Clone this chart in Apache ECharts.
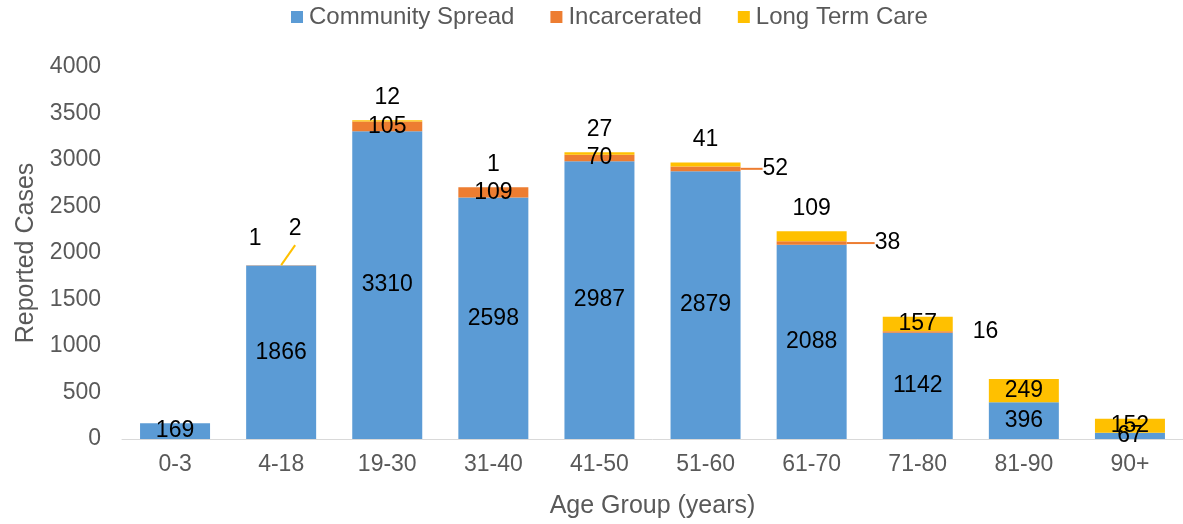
<!DOCTYPE html>
<html>
<head>
<meta charset="utf-8">
<script src="https://cdn.jsdelivr.net/npm/echarts@6/dist/echarts.min.js"></script>
<style>
  html, body { margin: 0; padding: 0; background: #fff; }
  #chart { width: 1183px; height: 524px; }
</style>
</head>
<body>
<div id="chart"></div>
<script>
const categories = ["0-3", "4-18", "19-30", "31-40", "41-50", "51-60", "61-70", "71-80", "81-90", "90+"];
const community = [169, 1866, 3310, 2598, 2987, 2879, 2088, 1142, 396, 67];
const incarcerated = [0, 1, 105, 109, 70, 52, 38, 16, 0, 0];
const longTermCare = [0, 2, 12, 1, 27, 41, 109, 157, 249, 152];
const yTicks = [0, 500, 1000, 1500, 2000, 2500, 3000, 3500, 4000];

const textColor = "#595959";
const labelFont = { fontFamily: "Liberation Sans, Arial", fontSize: 23, color: "#000" };

// incarcerated labels moved out of the bar: index -> gap to the right of the bar (px)
const incRight = { 5: 22, 6: 28, 7: 20 };
const incLine = [5, 6];
const ltcTop = [2, 3, 4, 5, 6];

function hideZero(p) {
  return p.value === 0 ? "" : String(p.value);
}

const chart = echarts.init(document.getElementById("chart"));

chart.setOption({
  animation: false,
  textStyle: { fontFamily: "Liberation Sans, Arial" },
  legend: {
    top: 0,
    left: 286,
    itemWidth: 12,
    itemHeight: 12,
    itemGap: 36,
    icon: "rect",
    textStyle: { fontSize: 24, color: textColor, padding: [0, 0, 0, 1] },
  },
  grid: { left: 122, top: 67, width: 1080, height: 373 },
  xAxis: {
    type: "category",
    data: categories,
    axisLine: { lineStyle: { color: "#d9d9d9", width: 1 } },
    axisTick: { show: false },
    axisLabel: { fontSize: 23, color: textColor, margin: 14 },
    name: "Age Group (years)",
    nameLocation: "middle",
    nameGap: 55,
    nameTextStyle: { fontSize: 25, color: textColor },
  },
  yAxis: {
    type: "value",
    min: yTicks[0],
    max: yTicks[yTicks.length - 1],
    interval: yTicks[1] - yTicks[0],
    axisLine: { show: false },
    axisTick: { show: false },
    splitLine: { show: false },
    axisLabel: { fontSize: 23, color: textColor, margin: 21, formatter: (v) => String(v) },
    name: "Reported Cases",
    nameLocation: "middle",
    nameGap: 80,
    nameTextStyle: { fontSize: 25, color: textColor },
  },
  series: [
    {
      name: "Community Spread",
      type: "bar",
      stack: "total",
      barWidth: 70,
      itemStyle: { color: "#5B9BD5" },
      label: Object.assign({ show: true, position: "inside", formatter: hideZero }, labelFont),
      data: community,
    },
    {
      name: "Incarcerated",
      type: "bar",
      stack: "total",
      barWidth: 70,
      itemStyle: { color: "#ED7D31" },
      label: Object.assign({ show: true, position: "inside", formatter: hideZero }, labelFont),
      data: incarcerated.map((v, i) => {
        const item = { value: v };
        if (incLine.includes(i)) {
          item.labelLine = { show: true, length2: 0, lineStyle: { color: "#ED7D31", width: 2 } };
        }
        return item;
      }),
      labelLayout: function (p) {
        const r = p.rect;
        if (p.dataIndex === 1) {
          return { x: r.x + r.width / 2 - 26, y: r.y - 27, align: "center", verticalAlign: "middle" };
        }
        if (incRight[p.dataIndex] !== undefined) {
          return { x: r.x + r.width + incRight[p.dataIndex], y: r.y + r.height / 2, align: "left", verticalAlign: "middle" };
        }
        return {};
      },
    },
    {
      name: "Long Term Care",
      type: "bar",
      stack: "total",
      barWidth: 70,
      itemStyle: { color: "#FFC000" },
      label: Object.assign({ show: true, position: "inside", formatter: hideZero }, labelFont),
      data: longTermCare.map((v, i) => {
        const item = { value: v };
        if (ltcTop.includes(i)) {
          item.label = { position: "top", distance: 11 };
        }
        return item;
      }),
      labelLayout: function (p) {
        const r = p.rect;
        if (p.dataIndex === 1) {
          return { x: r.x + r.width / 2 + 14, y: r.y - 37, align: "center", verticalAlign: "middle" };
        }
        return {};
      },
    },
  ],
});

// slanted leader line for the tiny "2" on 4-18, anchored at the stack top via the axis scale
const i418 = 1;
const top418 = community[i418] + incarcerated[i418] + longTermCare[i418];
const pt = chart.convertToPixel({ gridIndex: 0 }, [categories[i418], top418]);
chart.setOption({
  graphic: [{
    type: "line",
    shape: { x1: pt[0], y1: pt[1], x2: pt[0] + 14, y2: pt[1] - 20 },
    style: { stroke: "#FFC000", lineWidth: 2 },
    z: 10,
  }],
});
</script>
</body>
</html>
